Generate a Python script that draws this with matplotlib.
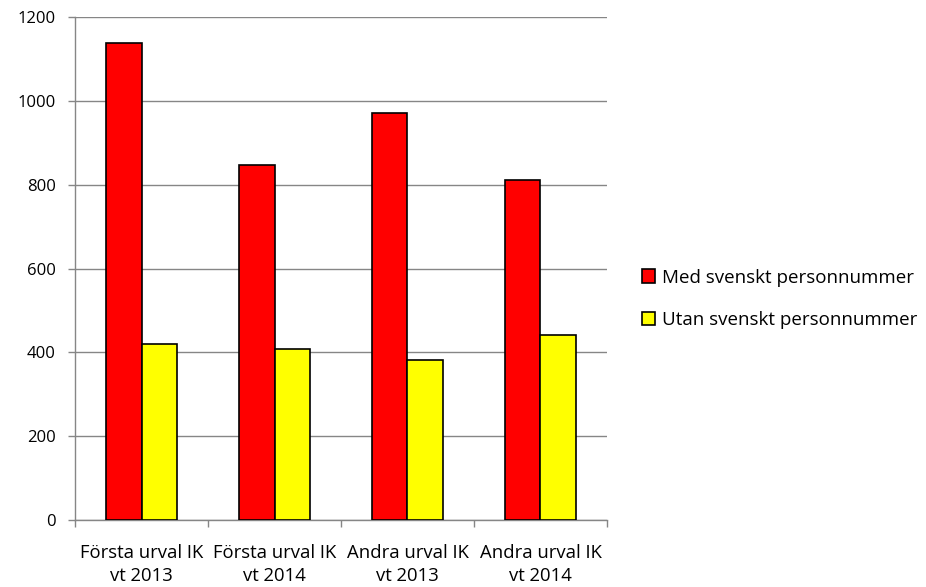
import numpy as np
import matplotlib.pyplot as plt

categories = ['Första urval IK\nvt 2013', 'Första urval IK\nvt 2014',
              'Andra urval IK\nvt 2013', 'Andra urval IK\nvt 2014']
med = [1139, 848, 972, 812]
utan = [421, 408, 381, 441]
series_names = ['Med svenskt personnummer', 'Utan svenskt personnummer']

plt.rcParams['font.family'] = ['Open Sans', 'DejaVu Sans']

fig = plt.figure(figsize=(9.26, 5.87), dpi=100)
ax = fig.add_axes([0.081, 0.1141, 0.5745, 0.8564])

x = np.arange(len(categories))
w = 0.27
ax.bar(x - w / 2, med, w, color='#ff0000', edgecolor='black', linewidth=1.2,
       label=series_names[0], zorder=3)
ax.bar(x + w / 2, utan, w, color='#ffff00', edgecolor='black', linewidth=1.2,
       label=series_names[1], zorder=3)

ax.set_xlim(-0.5, len(categories) - 0.5)
ax.set_ylim(0, 1200)
ax.set_yticks(range(0, 1201, 200))
ax.yaxis.grid(True, color='#868686', linewidth=1, zorder=0)

ax.set_xticks(x)
ax.set_xticklabels(categories, fontsize=13.3, linespacing=1.4)
ax.tick_params(axis='x', which='major', length=0, pad=17)
ax.set_xticks(np.arange(-0.5, len(categories), 1), minor=True)
ax.tick_params(axis='x', which='minor', length=5, color='#868686', width=1)
ax.tick_params(axis='y', length=5, color='#868686', width=1, labelsize=12, pad=9)

for side in ['top', 'right']:
    ax.spines[side].set_visible(False)
for side in ['left', 'bottom']:
    ax.spines[side].set_color('#868686')
    ax.spines[side].set_linewidth(1)

fig.legend(loc='center left', bbox_to_anchor=(0.675, 0.491), frameon=False,
           fontsize=13.5, handlelength=0.7, handleheight=0.7, handletextpad=0.35,
           labelspacing=1.3)

fig.savefig('out.png', dpi=100)
